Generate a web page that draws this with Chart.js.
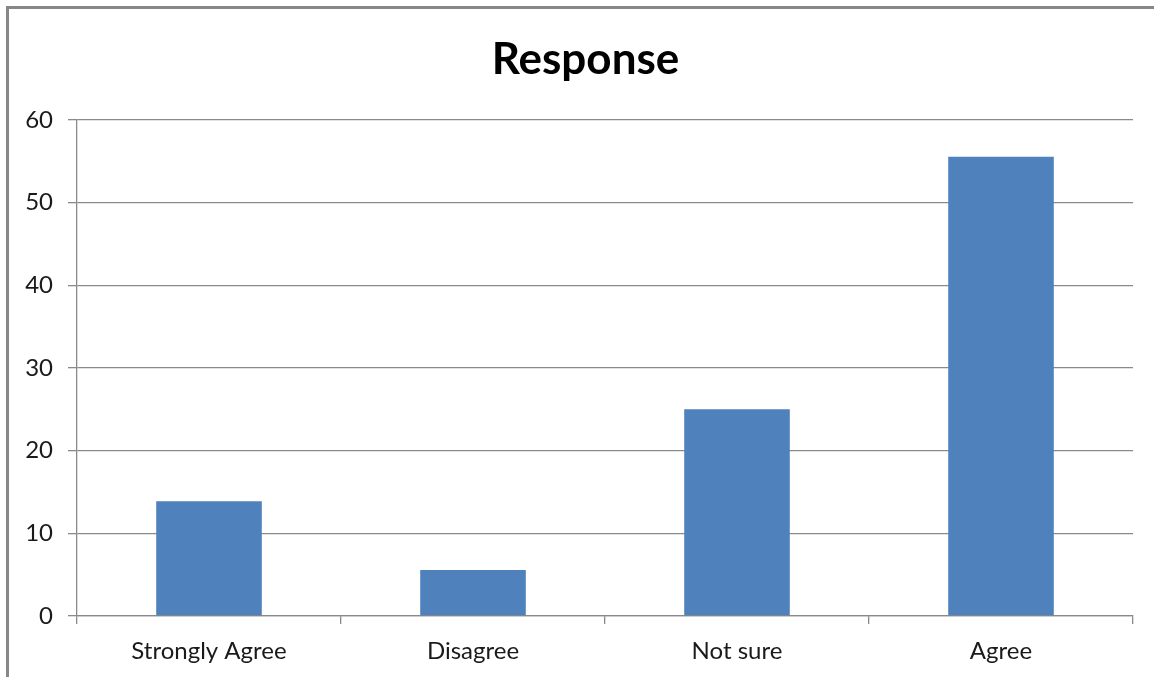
<!DOCTYPE html>
<html>
<head>
<meta charset="utf-8">
<title>Response</title>
<script src="https://cdn.jsdelivr.net/npm/chart.js@4.4.1/dist/chart.umd.min.js"></script>
<style>
  html, body { margin: 0; padding: 0; background: #fff; }
  #wrap { position: relative; width: 1154px; height: 677px; overflow: hidden; }
  /* grey frame round the chart, only top and left edges fall inside the window */
  #frame {
    position: absolute; left: 6px; top: 6px; width: 1200px; height: 720px;
    border-left: 3px solid #878787; border-top: 3px solid #878787;
  }
  #responseChart { position: absolute; left: 0; top: 0; }
</style>
</head>
<body>
<div id="wrap">
  <div id="frame"></div>
  <canvas id="responseChart" width="1154" height="677"></canvas>
</div>
<script>
// answer categories and share of respondents (%)
const categories = ["Strongly Agree", "Disagree", "Not sure", "Agree"];
const shares = [13.89, 5.56, 25, 55.56];
const yTicks = { min: 0, max: 60, step: 10 };

const gridGrey = "#8a8a8a";
const textColor = "#1a1a1a";

// title centred on the frame rather than on the canvas
const frameTitle = {
  id: "frameTitle",
  afterDraw(chart, args, opts) {
    const c = chart.ctx;
    c.save();
    c.font = "bold 44px Lato";
    c.fillStyle = "#000";
    c.textAlign = "center";
    c.textBaseline = "middle";
    c.fillText(opts.text, opts.x, opts.y);
    c.restore();
  },
};

const ctx = document.getElementById("responseChart").getContext("2d");
const responseChart = new Chart(ctx, {
  type: "bar",
  data: {
    labels: categories,
    datasets: [{
      label: "Response",
      data: shares,
      backgroundColor: "#4f81bd",
      borderWidth: 0,
      barPercentage: 0.4,
      categoryPercentage: 1.0,
    }],
  },
  plugins: [frameTitle],
  options: {
    responsive: false,
    animation: false,
    layout: {
      padding: { left: 0, right: 21, top: 120, bottom: 0 },
    },
    plugins: {
      legend: { display: false },
      tooltip: { enabled: false },
      title: { display: false },
      frameTitle: { text: "Response", x: 585.5, y: 60 },
    },
    scales: {
      x: {
        grid: {
          offset: true,
          drawOnChartArea: false,
          color: gridGrey,
          lineWidth: 1.3,
          tickLength: 8,
        },
        border: { color: gridGrey, width: 1.3 },
        ticks: {
          color: textColor,
          font: { family: "Lato", size: 24 },
          padding: 13,
          maxRotation: 0,
        },
        afterFit: function (scale) {
          scale.height = 61;
        },
      },
      y: {
        min: yTicks.min,
        max: yTicks.max,
        grid: {
          color: gridGrey,
          lineWidth: 1.3,
          tickLength: 9,
        },
        border: { color: gridGrey, width: 1.3 },
        ticks: {
          stepSize: yTicks.step,
          color: textColor,
          font: { family: "Lato", size: 24 },
          padding: 15,
        },
        afterFit: function (scale) {
          scale.width = 77;
        },
      },
    },
  },
});
</script>
</body>
</html>
